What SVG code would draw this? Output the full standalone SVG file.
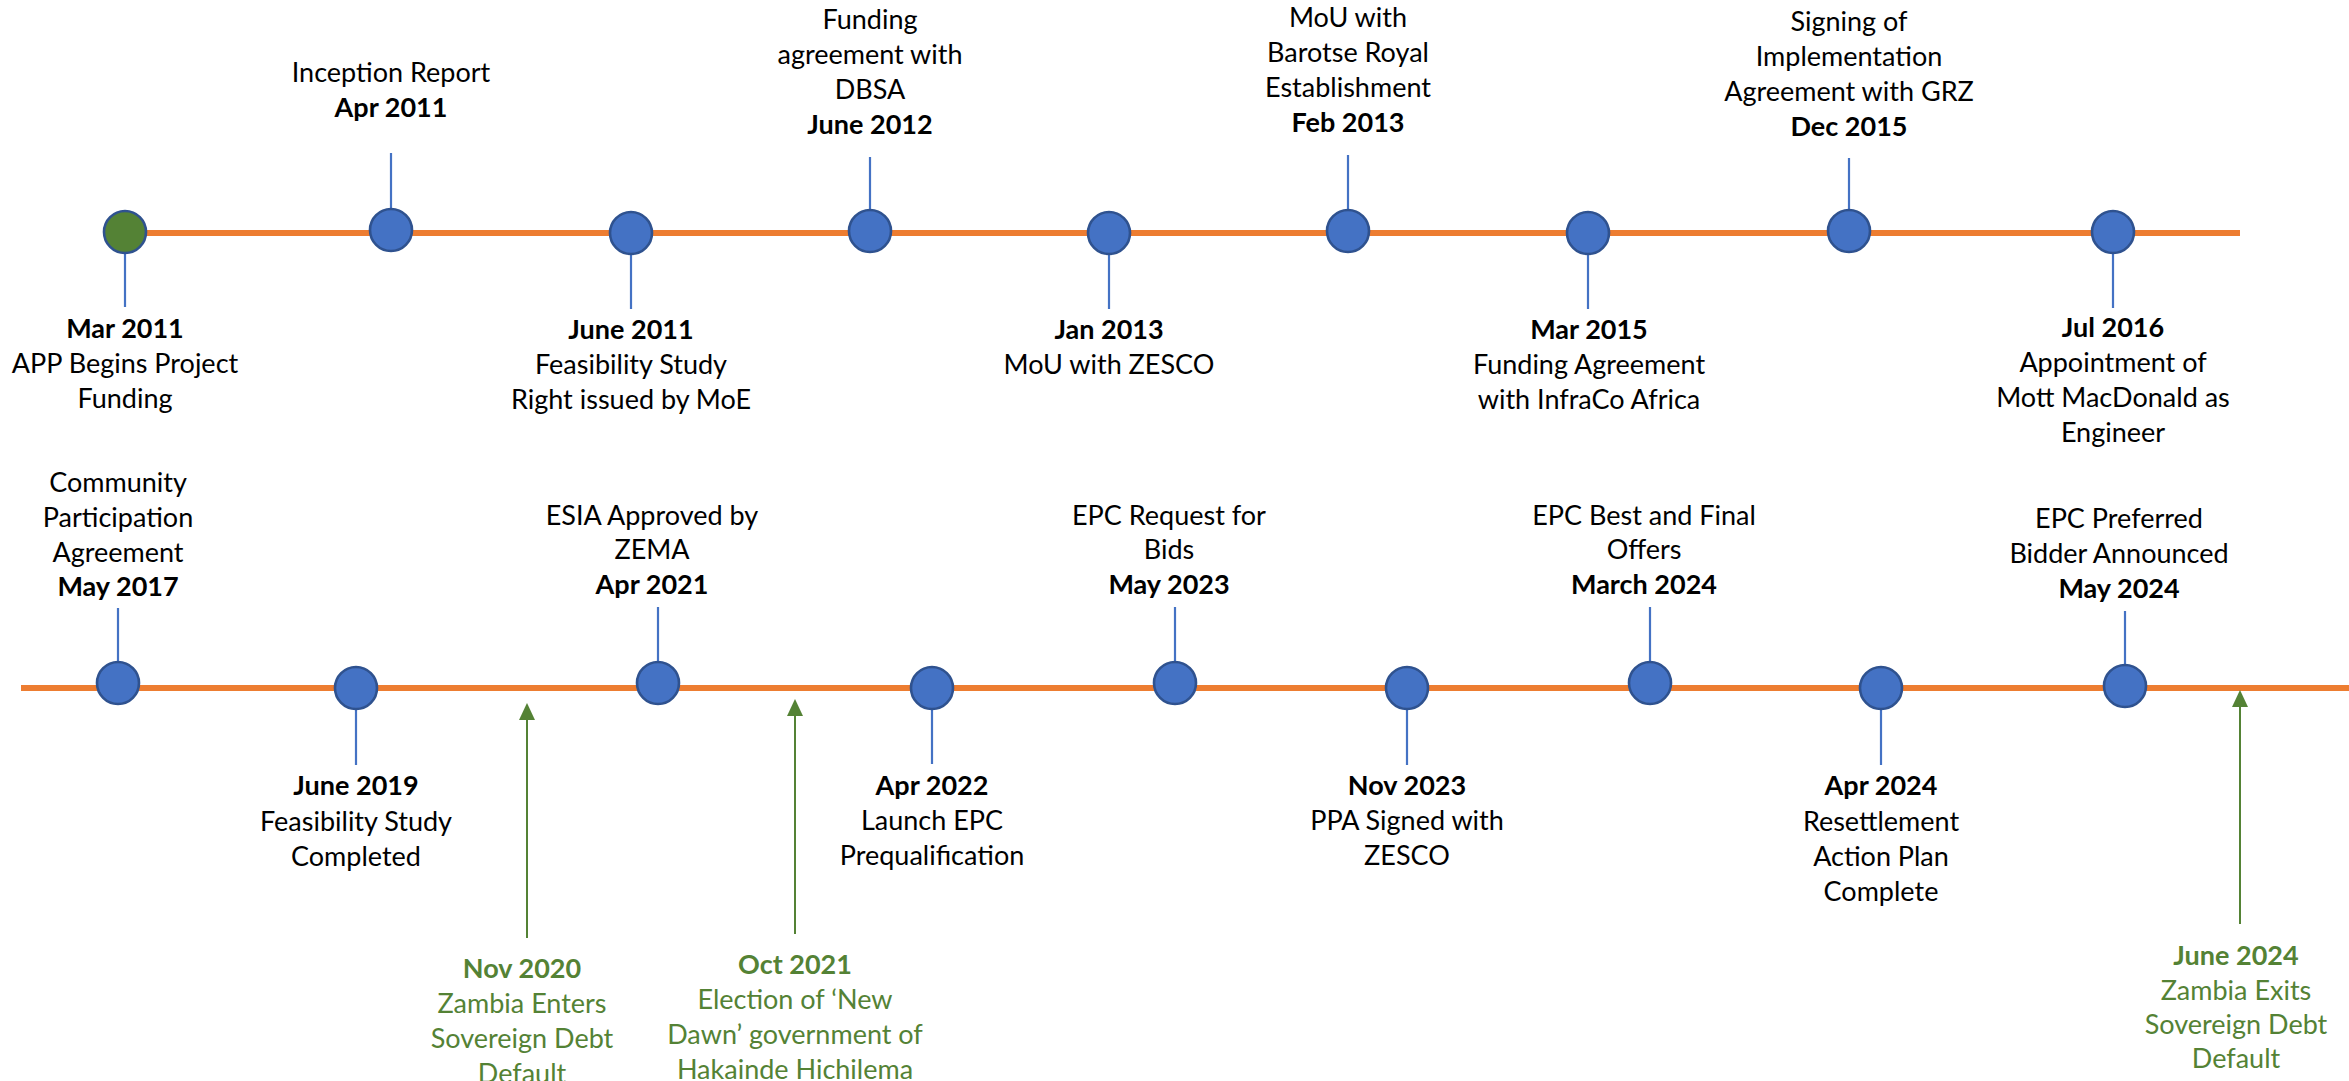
<svg xmlns="http://www.w3.org/2000/svg" width="2349" height="1081" viewBox="0 0 2349 1081">
<defs>
<style>
.axis{stroke:#ED7D31;stroke-width:6;fill:none}
.stem{stroke:#4472C4;stroke-width:2.2;fill:none}
.dot{fill:#4472C4;stroke:#2F528F;stroke-width:2.6}
.dot-start{fill:#548235;stroke:#2F528F;stroke-width:2.6}
.arrow{stroke:#548235;stroke-width:2;fill:none}
text{font-family:Lato,"Liberation Sans",sans-serif;font-size:27px;fill:#000;text-anchor:middle}
.b{font-weight:700}
.g{fill:#548235}
</style>
<marker id="ah" markerUnits="userSpaceOnUse" markerWidth="17" markerHeight="16" refX="0" refY="8" orient="auto" viewBox="0 0 17 16">
<path d="M0,0 L17,8 L0,16 z" fill="#548235"/>
</marker>
</defs>
<rect width="2349" height="1081" fill="#fff"/>
<g id="connectors">
<line class="axis" x1="125" y1="233" x2="2240" y2="233"/>
<line class="axis" x1="21" y1="688" x2="2349" y2="688"/>
<line class="stem" x1="125" y1="254" x2="125" y2="307"/>
<line class="stem" x1="391" y1="153" x2="391" y2="210"/>
<line class="stem" x1="631" y1="255" x2="631" y2="309"/>
<line class="stem" x1="870" y1="157" x2="870" y2="210"/>
<line class="stem" x1="1109" y1="255" x2="1109" y2="309"/>
<line class="stem" x1="1348" y1="155" x2="1348" y2="210"/>
<line class="stem" x1="1588" y1="255" x2="1588" y2="309"/>
<line class="stem" x1="1849" y1="158" x2="1849" y2="210"/>
<line class="stem" x1="2113" y1="254" x2="2113" y2="308"/>
<line class="stem" x1="118" y1="608" x2="118" y2="662"/>
<line class="stem" x1="356" y1="710" x2="356" y2="765"/>
<line class="stem" x1="658" y1="607" x2="658" y2="662"/>
<line class="stem" x1="932" y1="710" x2="932" y2="764"/>
<line class="stem" x1="1175" y1="607" x2="1175" y2="662"/>
<line class="stem" x1="1407" y1="710" x2="1407" y2="765"/>
<line class="stem" x1="1650" y1="607" x2="1650" y2="662"/>
<line class="stem" x1="1881" y1="710" x2="1881" y2="765"/>
<line class="stem" x1="2125" y1="611" x2="2125" y2="665"/>
<line class="arrow" x1="527" y1="938" x2="527" y2="720" marker-end="url(#ah)"/>
<line class="arrow" x1="795" y1="934" x2="795" y2="716" marker-end="url(#ah)"/>
<line class="arrow" x1="2240" y1="924" x2="2240" y2="707" marker-end="url(#ah)"/>
</g>
<g id="n-mar2011"><circle class="dot-start" cx="125" cy="232" r="21"/>
<text x="125" y="338" class="b">Mar 2011</text><text x="125" y="373">APP Begins Project</text><text x="125" y="408">Funding</text></g>
<g id="n-apr2011"><circle class="dot" cx="391" cy="230" r="21"/>
<text x="391" y="82">Inception Report</text><text x="391" y="117" class="b">Apr 2011</text></g>
<g id="n-jun2011"><circle class="dot" cx="631" cy="233" r="21"/>
<text x="631" y="339" class="b">June 2011</text><text x="631" y="374">Feasibility Study</text><text x="631" y="409">Right issued by MoE</text></g>
<g id="n-jun2012"><circle class="dot" cx="870" cy="231" r="21"/>
<text x="870" y="29">Funding</text><text x="870" y="64">agreement with</text><text x="870" y="99">DBSA</text><text x="870" y="134" class="b">June 2012</text></g>
<g id="n-jan2013"><circle class="dot" cx="1109" cy="233" r="21"/>
<text x="1109" y="339" class="b">Jan 2013</text><text x="1109" y="374">MoU with ZESCO</text></g>
<g id="n-feb2013"><circle class="dot" cx="1348" cy="231" r="21"/>
<text x="1348" y="27">MoU with</text><text x="1348" y="62">Barotse Royal</text><text x="1348" y="97">Establishment</text><text x="1348" y="132" class="b">Feb 2013</text></g>
<g id="n-mar2015"><circle class="dot" cx="1588" cy="233" r="21"/>
<text x="1589" y="339" class="b">Mar 2015</text><text x="1589" y="374">Funding Agreement</text><text x="1589" y="409">with InfraCo Africa</text></g>
<g id="n-dec2015"><circle class="dot" cx="1849" cy="231" r="21"/>
<text x="1849" y="31">Signing of</text><text x="1849" y="66">Implementation</text><text x="1849" y="101">Agreement with GRZ</text><text x="1849" y="136" class="b">Dec 2015</text></g>
<g id="n-jul2016"><circle class="dot" cx="2113" cy="232" r="21"/>
<text x="2113" y="337" class="b">Jul 2016</text><text x="2113" y="372">Appointment of</text><text x="2113" y="407">Mott MacDonald as</text><text x="2113" y="442">Engineer</text></g>
<g id="n-may2017"><circle class="dot" cx="118" cy="683" r="21"/>
<text x="118" y="492">Community</text><text x="118" y="527">Participation</text><text x="118" y="562">Agreement</text><text x="118" y="596" class="b">May 2017</text></g>
<g id="n-jun2019"><circle class="dot" cx="356" cy="688" r="21"/>
<text x="356" y="795" class="b">June 2019</text><text x="356" y="831">Feasibility Study</text><text x="356" y="866">Completed</text></g>
<g id="n-nov2020"><text x="522" y="978" class="b g">Nov 2020</text><text x="522" y="1013" class="g">Zambia Enters</text><text x="522" y="1048" class="g">Sovereign Debt</text><text x="522" y="1083" class="g">Default</text></g>
<g id="n-apr2021"><circle class="dot" cx="658" cy="683" r="21"/>
<text x="652" y="525">ESIA Approved by</text><text x="652" y="559">ZEMA</text><text x="652" y="594" class="b">Apr 2021</text></g>
<g id="n-oct2021"><text x="795" y="974" class="b g">Oct 2021</text><text x="795" y="1009" class="g">Election of ‘New</text><text x="795" y="1044" class="g">Dawn’ government of</text><text x="795" y="1079" class="g">Hakainde Hichilema</text></g>
<g id="n-apr2022"><circle class="dot" cx="932" cy="688" r="21"/>
<text x="932" y="795" class="b">Apr 2022</text><text x="932" y="830">Launch EPC</text><text x="932" y="865">Prequalification</text></g>
<g id="n-may2023"><circle class="dot" cx="1175" cy="683" r="21"/>
<text x="1169" y="525">EPC Request for</text><text x="1169" y="559">Bids</text><text x="1169" y="594" class="b">May 2023</text></g>
<g id="n-nov2023"><circle class="dot" cx="1407" cy="688" r="21"/>
<text x="1407" y="795" class="b">Nov 2023</text><text x="1407" y="830">PPA Signed with</text><text x="1407" y="865">ZESCO</text></g>
<g id="n-mar2024"><circle class="dot" cx="1650" cy="683" r="21"/>
<text x="1644" y="525">EPC Best and Final</text><text x="1644" y="559">Offers</text><text x="1644" y="594" class="b">March 2024</text></g>
<g id="n-apr2024"><circle class="dot" cx="1881" cy="688" r="21"/>
<text x="1881" y="795" class="b">Apr 2024</text><text x="1881" y="831">Resettlement</text><text x="1881" y="866">Action Plan</text><text x="1881" y="901">Complete</text></g>
<g id="n-may2024"><circle class="dot" cx="2125" cy="686" r="21"/>
<text x="2119" y="528">EPC Preferred</text><text x="2119" y="563">Bidder Announced</text><text x="2119" y="598" class="b">May 2024</text></g>
<g id="n-jun2024"><text x="2236" y="965" class="b g">June 2024</text><text x="2236" y="1000" class="g">Zambia Exits</text><text x="2236" y="1034" class="g">Sovereign Debt</text><text x="2236" y="1068" class="g">Default</text></g>
</svg>
